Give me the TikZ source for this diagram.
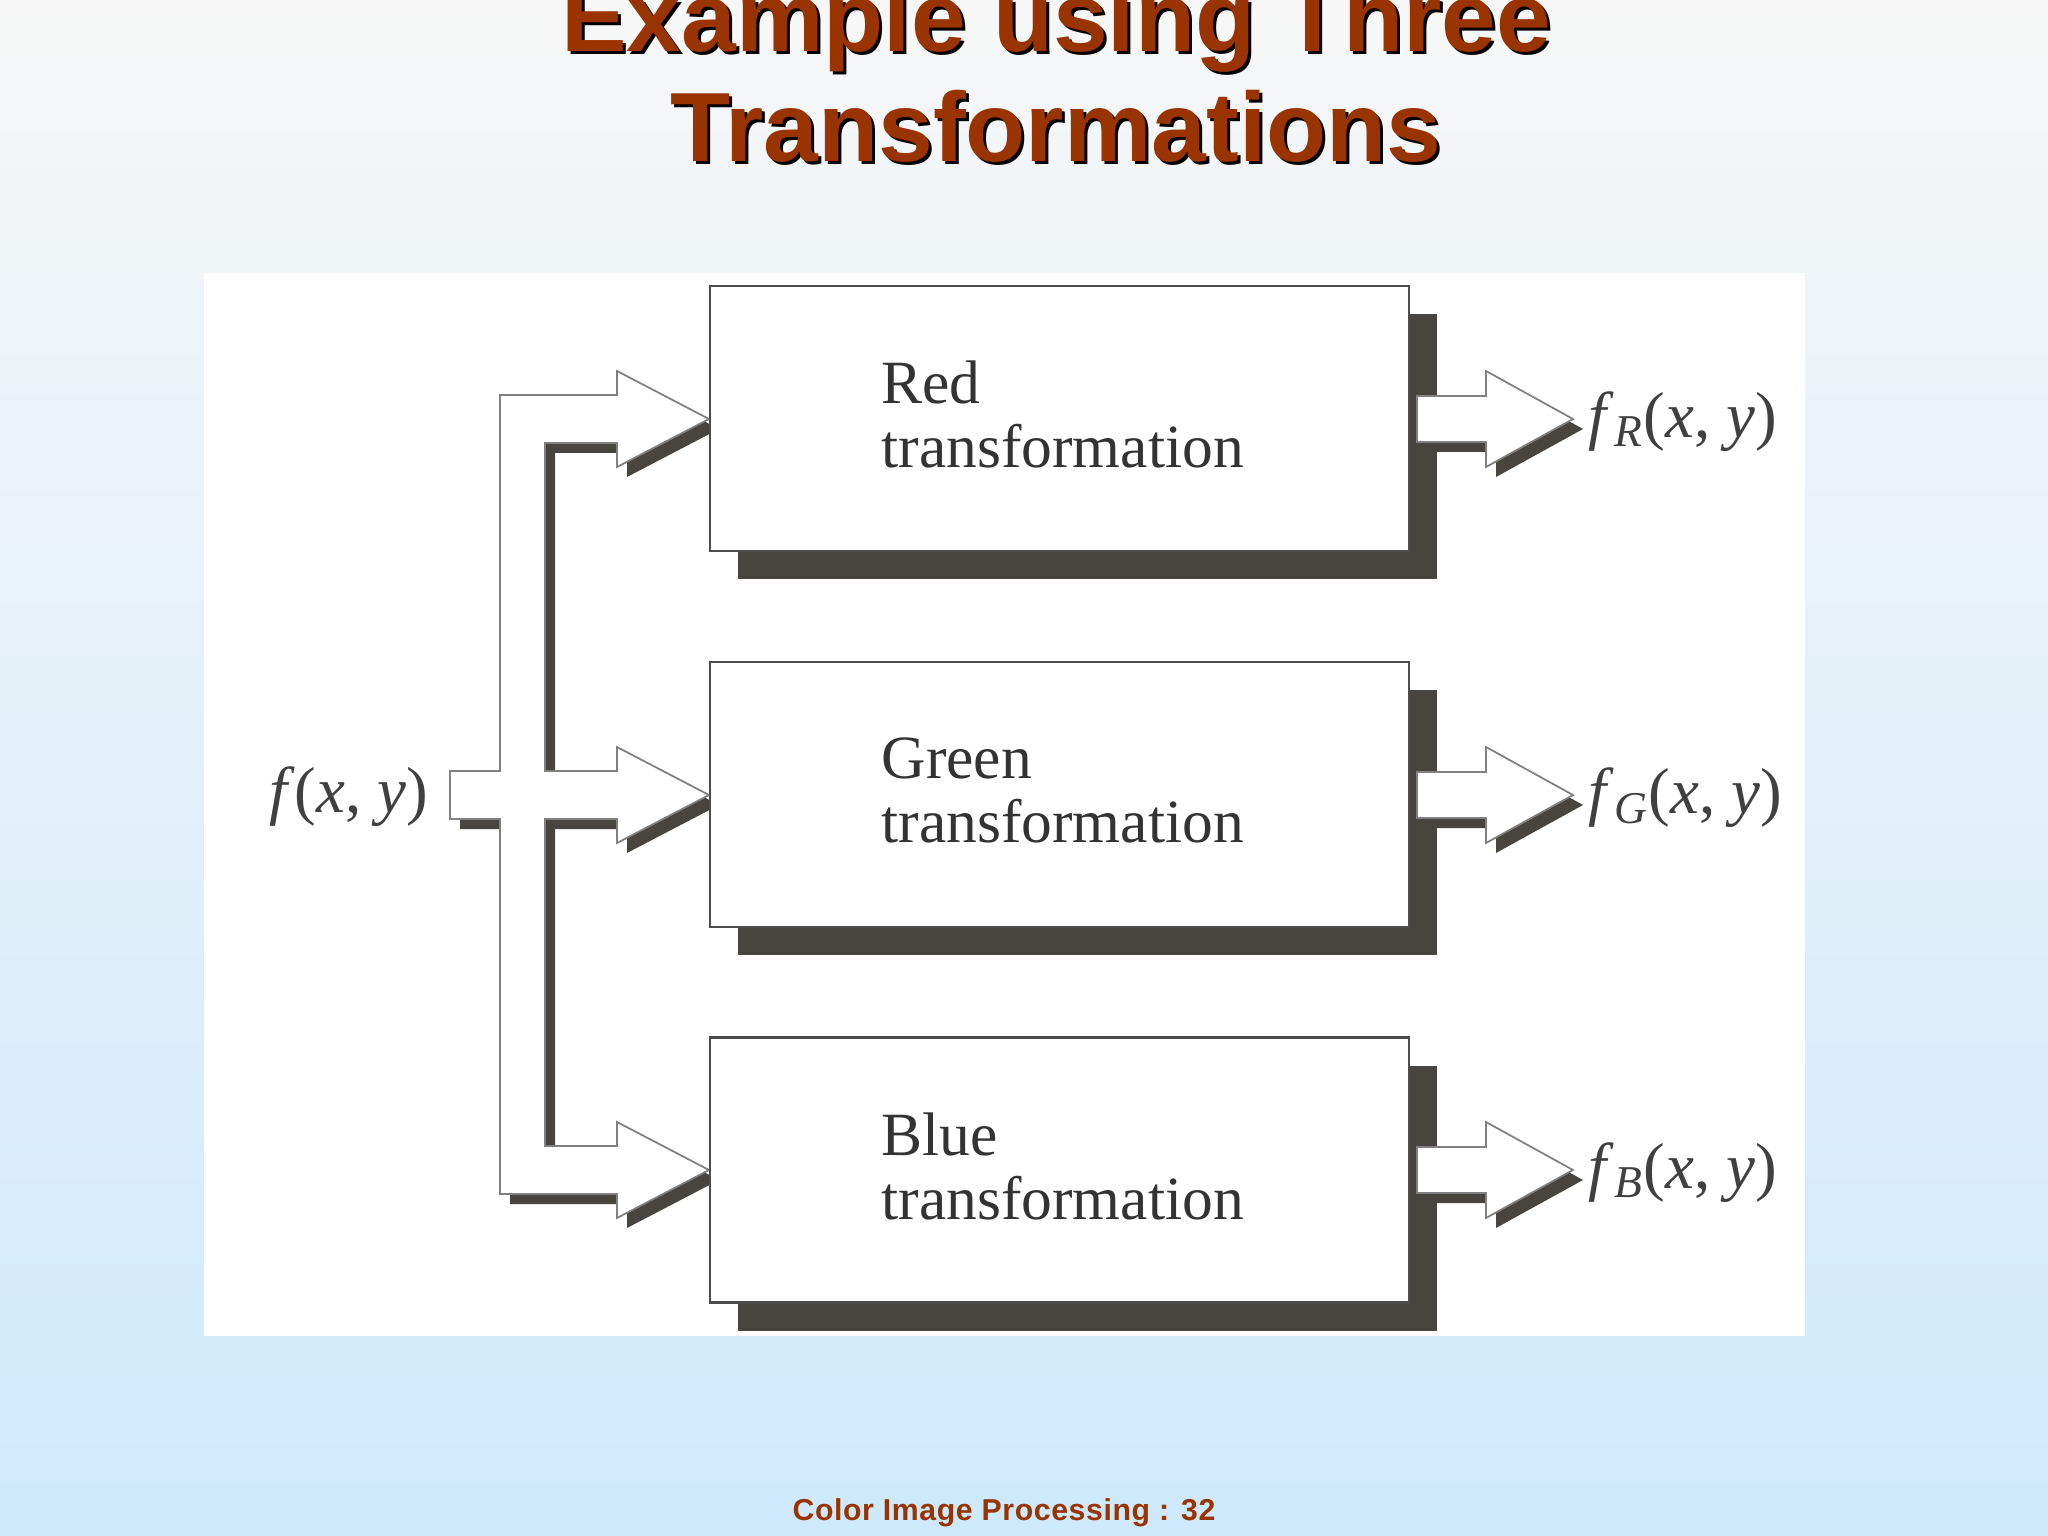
\documentclass[tikz,border=0pt]{standalone}
\usepackage{fontspec}
\setmainfont{Liberation Serif}
\newfontfamily\headfont{Liberation Sans}
\newfontfamily\footfont[LetterSpace=2]{Liberation Sans}
\usetikzlibrary{positioning,shadows}

\definecolor{brick}{HTML}{993300}
\definecolor{shadowgray}{HTML}{48443F}
\definecolor{edgegray}{HTML}{808080}
\definecolor{skytop}{HTML}{F7F7F7}
\definecolor{skybottom}{HTML}{CEE9FC}

\tikzset{
  tbox/.style={draw=black!70, line width=0.6pt, fill=white, minimum width=6.99cm, minimum height=2.65cm, inner sep=0pt,
    drop shadow={shadow xshift=0.28cm, shadow yshift=-0.28cm, opacity=1, fill=shadowgray}},
  tlabel/.style={align=left, anchor=west, inner sep=0pt, font=\fontsize{17.5}{18.2}\selectfont, text=black!80},
  flabel/.style={inner sep=0pt, font=\fontsize{18.5}{20}\selectfont, text=black!75},
  fatarrow/.style={fill=white, draw=edgegray, line width=0.5pt, line join=miter},
  fatshadow/.style={fill=shadowgray, xshift=0.1cm, yshift=-0.1cm},
  headline/.style={font=\headfont\bfseries\fontsize{28}{31}\selectfont, anchor=base},
}

\begin{document}
\begin{tikzpicture}
  \useasboundingbox (0,0) rectangle (20.48,-15.36);
  \shade[top color=skytop, bottom color=skybottom] (0,0) rectangle (20.48,-15.36);

  % title, with its black shadow
  \node[headline, text=black] (t1s) at (10.59,-0.55) {Example using Three};
  \node[headline, text=brick] (t1) at (10.56,-0.52) {Example using Three};
  \node[headline, text=black] (t2s) at (10.59,-1.65) {Transformations};
  \node[headline, text=brick] (t2) at (10.56,-1.62) {Transformations};

  % white panel
  \fill[white] (2.04,-2.73) rectangle (18.05,-13.36);

  % the fork that feeds the three boxes
  \def\forkpath{(4.50,-7.71) -- (5.00,-7.71) -- (5.00,-3.95) -- (6.17,-3.95) -- (6.17,-3.71)
    -- (7.09,-4.19) -- (6.17,-4.67) -- (6.17,-4.43) -- (5.45,-4.43) -- (5.45,-7.71)
    -- (6.17,-7.71) -- (6.17,-7.47) -- (7.09,-7.95) -- (6.17,-8.43) -- (6.17,-8.19)
    -- (5.45,-8.19) -- (5.45,-11.46) -- (6.17,-11.46) -- (6.17,-11.22) -- (7.09,-11.70)
    -- (6.17,-12.18) -- (6.17,-11.94) -- (5.00,-11.94) -- (5.00,-8.19) -- (4.50,-8.19) -- cycle}
  \fill[fatshadow] \forkpath;
  \draw[fatarrow] \forkpath;
  \node[flabel, anchor=east] (in) at (4.29,-7.97) {\textit{f}(\textit{x}, \textit{y})};

  % boxes
  \node[tbox] (red) at (10.595,-4.185) {};
  \node[tbox] (green) at (10.595,-7.945) {};
  \node[tbox] (blue) at (10.595,-11.70) {};
  \node[tlabel] (redtxt) at ([xshift=1.72cm, yshift=0.04cm]red.west) {Red\\transformation};
  \node[tlabel] (greentxt) at ([xshift=1.72cm, yshift=0.04cm]green.west) {Green\\transformation};
  \node[tlabel] (bluetxt) at ([xshift=1.72cm, yshift=0.04cm]blue.west) {Blue\\transformation};

  % outputs
  \foreach \c/\nm/\sub in {-4.19/red/R, -7.95/green/G, -11.70/blue/B} {
    \fill[fatshadow] (14.17,\c+0.23) -- (14.86,\c+0.23) -- (14.86,\c+0.48) -- (15.73,\c)
      -- (14.86,\c-0.48) -- (14.86,\c-0.23) -- (14.17,\c-0.23) -- cycle;
    \draw[fatarrow] (14.17,\c+0.23) -- (14.86,\c+0.23) -- (14.86,\c+0.48) -- (15.73,\c)
      -- (14.86,\c-0.48) -- (14.86,\c-0.23) -- (14.17,\c-0.23) -- cycle;
    \coordinate (\nm tip) at (15.73,\c);
    \node[flabel, anchor=west] (out\nm) at ([xshift=0.15cm, yshift=-0.03cm]\nm tip)
      {\textit{f}\textsubscript{\textit{\sub}}(\textit{x}, \textit{y})};
  }

  \node[font=\footfont\bfseries\fontsize{8.6}{10}\selectfont, text=brick, anchor=base] (foot)
    at (10.04,-15.20) {Color Image Processing : 32};
\end{tikzpicture}
\end{document}
